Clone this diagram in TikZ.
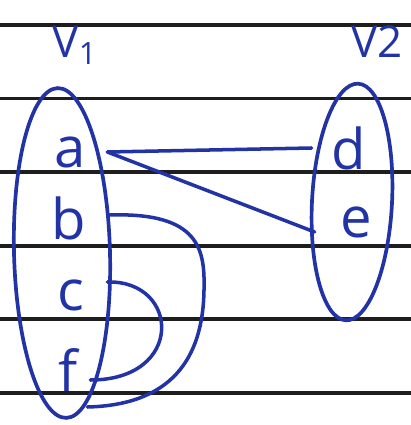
\documentclass[tikz,border=0pt]{standalone}
\usepackage{fontspec}
\setmainfont{Open Sans}
\usepackage{xcolor}
\definecolor{inkblue}{HTML}{2233A6}
\definecolor{ruleblack}{HTML}{1E1E1E}
\usetikzlibrary{
  shapes.geometric,
  positioning,
}

\begin{document}
\begin{tikzpicture}[
  x=0.02cm, y=-0.02cm,
  vert/.style={text=inkblue, font=\fontsize{32}{32}\selectfont, inner sep=0pt, minimum width=1.48cm},
  setname/.style={text=inkblue, font=\fontsize{25}{25}\selectfont, inner sep=0pt},
  part/.style={ellipse, draw=inkblue, line width=2.1pt, inner sep=0pt},
  edge/.style={draw=inkblue, line width=2pt, line cap=round},
  ruled/.style={draw=ruleblack, line width=2.1pt},
]
  \useasboundingbox (0,0) rectangle (411,425);

  % Ruled paper
  \foreach \ly in {25,98.5,172,246,319,393}
    \draw[ruled] (0,\ly) -- (411,\ly);

  % Partitions
  \node[part, minimum width=1.92cm, minimum height=6.6cm, rotate=1.5] (setone) at (62,253) {};
  \node[part, minimum width=1.6cm, minimum height=4.74cm, rotate=-3] (settwo) at (352,202) {};
  \node[setname] (labone) at (75,45) {V\textsubscript{1}};
  \node[setname] (labtwo) at (377,42) {V2};

  % Vertices
  \node[vert] (a) at (70,152) {a};
  \node[vert] (b) at (69,218) {b};
  \node[vert] (c) at (71,295) {c};
  \node[vert] (f) at (68,370) {f};
  \node[vert] (d) at (349,148) {d};
  \node[vert] (e) at (356,222) {e};

  % Edges
  \draw[edge] (a.east) -- (d.west);
  \draw[edge] (a.east) -- ([shift={(-4,10)}]e.west);
  \draw[edge] ([shift={(3,-3)}]b.east) .. controls (200,212) and (205,250) .. (204,290)
    .. controls (203,360) and (170,405) .. ([shift={(-18,37)}]f.east);
  \draw[edge] ([shift={(-1,-13)}]c.east) .. controls (180,280) and (185,380) .. ([shift={(-15,10)}]f.east);

\end{tikzpicture}
\end{document}
